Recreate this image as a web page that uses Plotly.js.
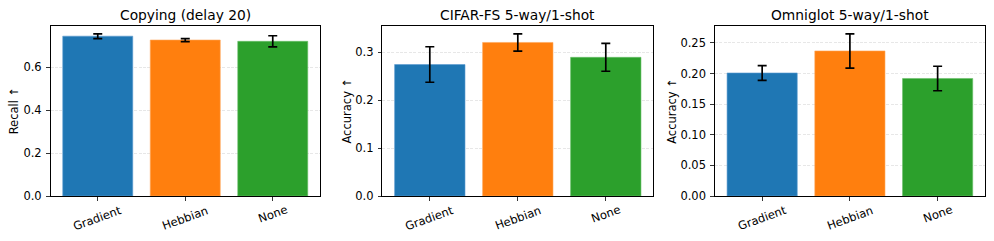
<!DOCTYPE html>
<html>
<head>
<meta charset="utf-8">
<script src="https://cdn.plot.ly/plotly-3.0.1.min.js"></script>
<style>html,body{margin:0;padding:0;background:#fff;}#chart{width:994px;height:241px;}</style>
</head>
<body>
<div id="chart"></div>
<script>
// ---- Data ----
const categories = ["Gradient", "Hebbian", "None"];
const panelTitles = ["Copying (delay 20)", "CIFAR-FS 5-way/1-shot", "Omniglot 5-way/1-shot"];
const yLabels = ["Recall ↑", "Accuracy ↑", "Accuracy ↑"];
const copyingMean = [0.745, 0.727, 0.721];
const copyingErr  = [0.011, 0.007, 0.026];
const cifarMean   = [0.274, 0.320, 0.289];
const cifarErr    = [0.037, 0.018, 0.029];
const omniMean    = [0.201, 0.237, 0.192];
const omniErr     = [0.012, 0.028, 0.020];
const yTickStep   = [0.2, 0.1, 0.05];
const yTickFmt    = [".1f", ".1f", ".2f"];

// ---- Style ----
const colors = ["#1f77b4", "#ff7f0e", "#2ca02c"];
const edgeColors = ["#5b9bd0", "#ffa657", "#68c068"];
const FONT = "DejaVu Sans, Liberation Sans, sans-serif";
const W = 994, H = 241;
const plotTop = 25.7, plotBottom = 196;
const xDomainsPx = [[50.5, 320], [382.3, 653.3], [714.8, 985]];
const yLabelX = [13.5, 346.7, 672];

const means = [copyingMean, cifarMean, omniMean];
const errs = [copyingErr, cifarErr, omniErr];

const traces = [];
const layout = {
  width: W, height: H,
  margin: {l: 0, r: 0, t: 0, b: 0},
  paper_bgcolor: "#fff", plot_bgcolor: "#fff",
  showlegend: false,
  font: {family: FONT, size: 11.5, color: "#000"},
  annotations: [],
  bargap: 0.2
};

const yDomain = [1 - plotBottom / H, 1 - plotTop / H];

for (let p = 0; p < 3; p++) {
  const sfx = p === 0 ? "" : String(p + 1);
  const xa = "x" + sfx, ya = "y" + sfx;
  traces.push({
    type: "bar",
    x: [0, 1, 2],
    y: means[p],
    width: 0.8,
    xaxis: xa, yaxis: ya,
    marker: {color: colors, line: {color: edgeColors, width: 0.6}},
    error_y: {type: "data", array: errs[p], visible: true, color: "#000", thickness: 1.7, width: 4.5},
    hoverinfo: "skip"
  });
  let maxTop = 0;
  for (let i = 0; i < means[p].length; i++) maxTop = Math.max(maxTop, means[p][i] + errs[p][i]);
  const ymax = maxTop * 1.05;
  const n = categories.length;
  const xr = [-0.4 - 0.05 * (n - 1 + 0.8), n - 1 + 0.4 + 0.05 * (n - 1 + 0.8)];

  layout["xaxis" + sfx] = {
    domain: [xDomainsPx[p][0] / W, xDomainsPx[p][1] / W],
    anchor: ya,
    range: xr,
    tickvals: [0, 1, 2],
    showticklabels: false,
    ticks: "outside", ticklen: 3.5, tickwidth: 0.8, tickcolor: "#000",
    showline: true, linecolor: "#000", linewidth: 1, mirror: true,
    showgrid: false, zeroline: false, fixedrange: true
  };
  layout["yaxis" + sfx] = {
    domain: yDomain,
    anchor: xa,
    range: [0, ymax],
    dtick: yTickStep[p], tick0: 0,
    tickformat: yTickFmt[p],
    ticks: "outside", ticklen: 3.5, tickwidth: 0.8, tickcolor: "#000",
    tickfont: {family: FONT, size: 11.5, color: "#000"},
    ticklabelstandoff: 2,
    showline: true, linecolor: "#000", linewidth: 1, mirror: true,
    showgrid: true, gridcolor: "rgba(0,0,0,0.12)", griddash: "3px,1.4px", gridwidth: 0.8,
    zeroline: false, fixedrange: true
  };
  // panel title
  layout.annotations.push({
    text: panelTitles[p], xref: "paper", yref: "paper",
    x: (xDomainsPx[p][0] + xDomainsPx[p][1]) / 2 / W, y: 1 - 14.5 / H,
    xanchor: "center", yanchor: "middle", showarrow: false,
    font: {family: FONT, size: 13.8, color: "#000"}
  });
  // y axis label
  layout.annotations.push({
    text: yLabels[p], xref: "paper", yref: "paper",
    x: yLabelX[p] / W, y: 1 - (plotTop + plotBottom) / 2 / H,
    xanchor: "center", yanchor: "middle", textangle: -90, showarrow: false,
    font: {family: FONT, size: 11.5, color: "#000"}
  });
  // rotated x tick labels
  for (let i = 0; i < categories.length; i++) {
    layout.annotations.push({
      text: categories[i], xref: xa, yref: "paper",
      x: i, y: 1 - 201.5 / H,
      xanchor: "center", yanchor: "top", textangle: -20, showarrow: false,
      borderpad: 0,
      font: {family: FONT, size: 11.5, color: "#000"}
    });
  }
}

Plotly.newPlot("chart", traces, layout, {staticPlot: true, displayModeBar: false});
</script>
</body>
</html>
